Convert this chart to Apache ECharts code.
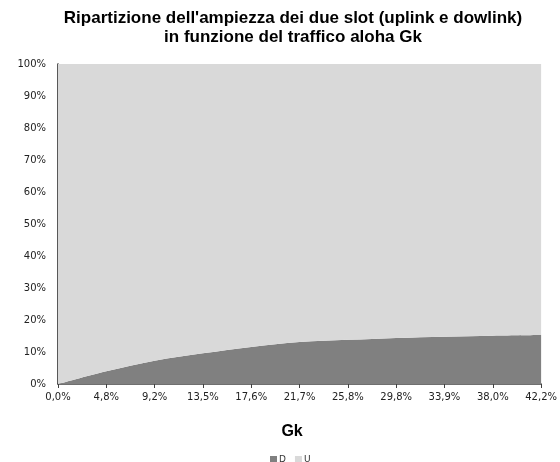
<!DOCTYPE html>
<html>
<head>
<meta charset="utf-8">
<script src="https://cdn.jsdelivr.net/npm/echarts@6/dist/echarts.min.js"></script>
<style>
html,body{margin:0;padding:0;background:#fff;}
#chart{width:560px;height:462px;}
</style>
</head>
<body>
<div id="chart"></div>
<script>
const categories = ['0,0%','4,8%','9,2%','13,5%','17,6%','21,7%','25,8%','29,8%','33,9%','38,0%','42,2%'];
const seriesD = [0, 4.0, 7.3, 9.6, 11.6, 13.1, 13.8, 14.4, 14.8, 15.1, 15.3];
const seriesU = seriesD.map(v => 100 - v);

const chart = echarts.init(document.getElementById('chart'), null, {renderer:'canvas'});
chart.setOption({
  animation: false,
  backgroundColor: '#ffffff',
  title: {
    text: "Ripartizione dell'ampiezza dei due slot (uplink e dowlink)\nin funzione del traffico aloha Gk",
    left: 288,
    textAlign: 'center',
    top: 4,
    textStyle: {
      fontFamily: 'Liberation Sans, Arial, sans-serif',
      fontWeight: 'bold',
      fontSize: 17,
      lineHeight: 19,
      color: '#000'
    }
  },
  legend: {
    data: ['D','U'],
    left: 265,
    top: 450,
    itemWidth: 7,
    itemHeight: 7,
    itemGap: 9,
    icon: 'rect',
    textStyle: {fontFamily:'DejaVu Sans, sans-serif', fontSize: 9, color:'#333', padding:[0,0,0,-3]}
  },
  grid: {left: 58, right: 18, top: 64, bottom: 78, containLabel: false},
  xAxis: {
    type: 'category',
    data: categories,
    boundaryGap: false,
    name: 'Gk',
    nameLocation: 'middle',
    nameGap: 40,
    nameTextStyle: {fontFamily:'Liberation Sans, Arial, sans-serif', fontWeight:'bold', fontSize:16, color:'#000', padding:[0,15,0,0]},
    axisLine: {show: true, lineStyle: {color:'#404040', width: 1.5}},
    axisTick: {show: true, length: 4, alignWithLabel: true, lineStyle:{color:'#404040'}},
    axisLabel: {interval: 0, margin: 8, fontFamily:'DejaVu Sans, sans-serif', fontSize: 10, color:'#222'},
    splitLine: {show:false}
  },
  yAxis: {
    type: 'value',
    min: 0,
    max: 100,
    interval: 10,
    axisLine: {show: true, lineStyle:{color:'#202020', width: 1.5}},
    axisTick: {show: false},
    axisLabel: {formatter: v => v + '%', margin: 12, fontFamily:'DejaVu Sans, sans-serif', fontSize: 10, color:'#222'},
    splitLine: {show: false}
  },
  series: [
    {
      name: 'D', type: 'line', stack: 'tot', data: seriesD,
      smooth: 0.35, symbol: 'none', lineStyle: {width: 0},
      areaStyle: {color:'#808080', opacity: 1}, itemStyle:{color:'#808080'}
    },
    {
      name: 'U', type: 'line', stack: 'tot', data: seriesU,
      smooth: 0.35, symbol: 'none', lineStyle: {width: 0},
      areaStyle: {color:'#d9d9d9', opacity: 1}, itemStyle:{color:'#d9d9d9'}
    }
  ]
});
</script>
</body>
</html>
